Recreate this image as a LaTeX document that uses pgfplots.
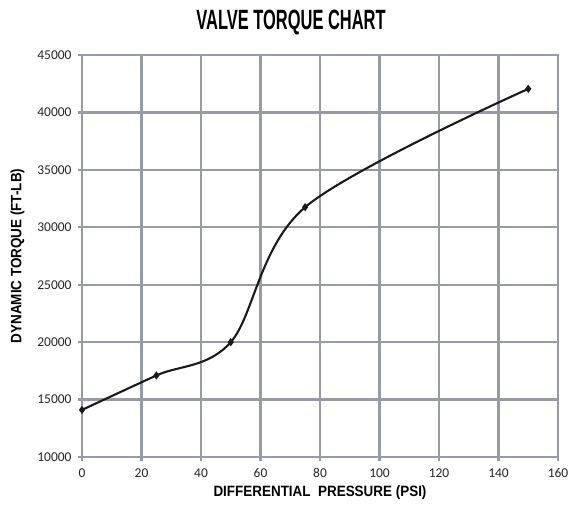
\documentclass[border=0pt]{standalone}
\usepackage{pgfplots}
\pgfplotsset{compat=1.18}
\usepackage{fontspec}
\setmainfont{Carlito}
\newfontfamily\condbold[FakeStretch=0.59]{Liberation Sans Bold}
\newfontfamily\labbold[FakeStretch=0.9]{Liberation Sans Bold}
\definecolor{gridgray}{RGB}{150,156,162}
\begin{document}
\begin{tikzpicture}
\useasboundingbox (-82bp,-51bp) rectangle (490bp,457bp);
\begin{axis}[
  at={(0,0)}, anchor=south west,
  scale only axis, width=476bp, height=402bp,
  xmin=0, xmax=160, ymin=10000, ymax=45000,
  xtick={0,20,...,160}, ytick={10000,15000,...,45000},
  grid=major,
  major grid style={gridgray, line width=2.3pt},
  axis line style={gridgray, line width=2.3pt},
  tick style={gridgray, line width=2.3pt},
  major tick length=4bp,
  tick align=outside,
  xtick pos=bottom, ytick pos=left,
  scaled y ticks=false,
  /pgf/number format/assume math mode=true,
  yticklabel style={/pgf/number format/1000 sep={}, xshift=-3bp},
  ticklabel style={font=\fontsize{13.5}{14}\selectfont, text=black!85},
  xticklabel style={yshift=-4bp},
  xlabel={\labbold\fontsize{15}{15}\selectfont DIFFERENTIAL\ \ PRESSURE (PSI)},
  ylabel={\labbold\fontsize{15}{15}\selectfont DYNAMIC TORQUE (FT-LB)},
  xlabel style={yshift=-1bp},
  ylabel style={yshift=6bp},
]
\addplot[black!90, line width=2.1pt, smooth, tension=0.55, mark=diamond*, mark size=2.4pt] coordinates {
  (0,14100) (25,17100) (50,20000) (75,31750) (150,42050)
};
\end{axis}
\node at (209bp,434bp) {\condbold\fontsize{28}{28}\selectfont VALVE TORQUE CHART};
\end{tikzpicture}
\end{document}
